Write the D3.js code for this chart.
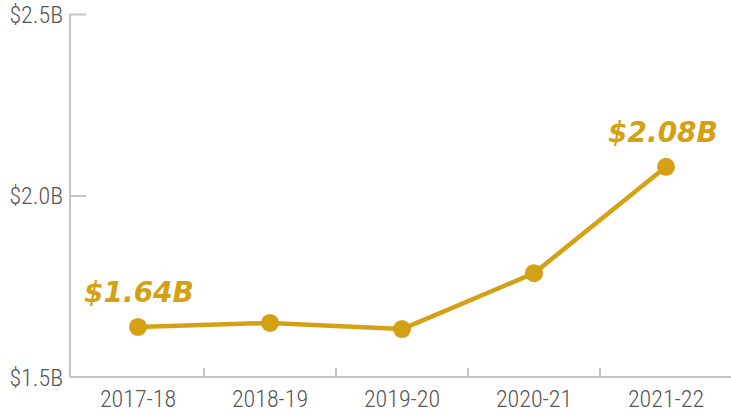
<!DOCTYPE html>
<html><head><meta charset="utf-8">
<script src="https://cdn.jsdelivr.net/npm/d3@7"></script>
<style>body{margin:0;background:#fff}svg{display:block}</style>
</head><body>
<svg id="c" width="731" height="413"></svg>
<script>
const categories = ["2017-18","2018-19","2019-20","2020-21","2021-22"];
const values = [1.638, 1.649, 1.632, 1.786, 2.079];
const yTicks = [1.5, 2.0, 2.5];
const yTickLabels = ["$1.5B","$2.0B","$2.5B"];
const annotations = [{i:0, text:"$1.64B"},{i:4, text:"$2.08B"}];

const svg = d3.select("#c");
const gold = "#D5A013";
const axisColor = "#c4c4c4";
const textColor = "#555";
const fontFam = "'Roboto Condensed','Liberation Sans Narrow','DejaVu Sans Condensed',Roboto,sans-serif";

const x = d3.scaleBand().domain(categories).range([72, 732]);
const y = d3.scaleLinear().domain([1.5, 2.5]).range([377, 14]);

// y axis
const yAxis = svg.append("g").attr("transform","translate(70,0)")
  .call(d3.axisRight(y).tickValues(yTicks).tickFormat((d,i)=>yTickLabels[i]).tickSize(16).tickPadding(0));
yAxis.select(".domain").attr("stroke",axisColor).attr("stroke-width",2).attr("d","M0,14V377");
yAxis.selectAll(".tick line").attr("stroke",axisColor).attr("stroke-width",2);
yAxis.selectAll(".tick text").attr("x",-7).attr("text-anchor","end").attr("dy","0.35em")
  .attr("fill",textColor).style("font-family",fontFam).style("font-size","24px").style("font-weight","300");
yAxis.selectAll(".tick").filter(d=>d===1.5).select("line").remove();

// x axis
const xAxis = svg.append("g").attr("transform","translate(0,377)")
  .call(d3.axisBottom(x).tickSize(0).tickPadding(13));
xAxis.select(".domain").attr("stroke",axisColor).attr("stroke-width",2).attr("d","M70,0H731");
xAxis.selectAll(".tick text").attr("fill",textColor).style("font-family",fontFam).style("font-size","24px").style("font-weight","300");
// separator ticks between bands
xAxis.selectAll(".sep").data(categories.slice(1)).enter().append("line")
  .attr("x1",d=>x(d)).attr("x2",d=>x(d)).attr("y1",0).attr("y2",-9)
  .attr("stroke",axisColor).attr("stroke-width",2);

const cx = d => x(d) + x.bandwidth()/2;
const line = d3.line().x((d,i)=>cx(categories[i])).y(d=>y(d));
svg.append("path").datum(values).attr("d",line).attr("fill","none")
  .attr("stroke",gold).attr("stroke-width",4.5).attr("stroke-linejoin","round");
svg.selectAll(".pt").data(values).enter().append("circle")
  .attr("cx",(d,i)=>cx(categories[i])).attr("cy",d=>y(d)).attr("r",9).attr("fill",gold);

svg.selectAll(".ann").data(annotations).enter().append("text")
  .attr("x",d=>cx(categories[d.i]) + (d.i===0?1:-3))
  .attr("y",d=>y(values[d.i]) - 25)
  .attr("text-anchor","middle")
  .attr("fill",gold)
  .style("font-family","'DejaVu Sans',sans-serif")
  .style("font-weight","bold").style("font-style","italic")
  .style("font-size","28px")
  .text(d=>d.text);
</script>
</body></html>
